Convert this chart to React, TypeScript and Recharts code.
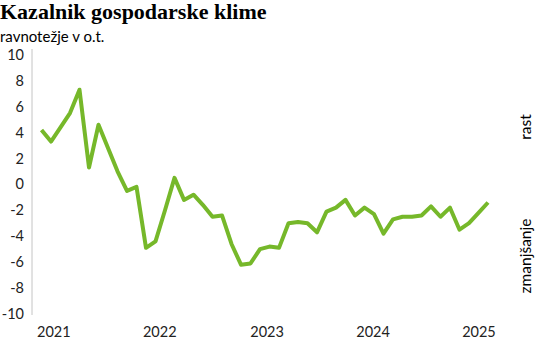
import { Line, LineChart, XAxis, YAxis } from "recharts";

// kazalnik gospodarske klime, ravnotežje v o.t. (zaporedne točke od začetka 2021)
const values = [
  4.2, 3.3, 4.4, 5.5, 7.3, 1.3, 4.6, 2.8, 1.0, -0.5, -0.2, -4.9,
  -4.4, -2.0, 0.5, -1.2, -0.8, -1.6, -2.5, -2.4, -4.6, -6.2, -6.1, -5.0,
  -4.8, -4.9, -3.0, -2.9, -3.0, -3.7, -2.1, -1.8, -1.2, -2.4, -1.8, -2.3,
  -3.8, -2.7, -2.5, -2.5, -2.4, -1.7, -2.5, -1.8, -3.5, -3.0, -2.2, -1.4,
];

const years = ["2021", "2022", "2023", "2024", "2025"];
// where each year label sits on the point index scale
const yearAt = [1.3, 12.45, 23.75, 34.9, 46.05];

const yTicks = [-10, -8, -6, -4, -2, 0, 2, 4, 6, 8, 10];

const data = values.map((v, i) => ({ i, v }));

const GREEN = "#76b82a";
const SANS = "Lato, 'Noto Sans', sans-serif";

export default function App() {
  return (
    <div style={{ position: "relative", width: 557, height: 339, background: "#fff" }}>
      <style>{"body{margin:0}"}</style>
      <div
        style={{
          position: "absolute",
          left: 0,
          top: -1,
          fontFamily: "'Liberation Serif', serif",
          fontWeight: 700,
          fontSize: 22,
          color: "#000",
          whiteSpace: "nowrap",
        }}
      >
        Kazalnik gospodarske klime
      </div>
      <div
        style={{
          position: "absolute",
          left: 0,
          top: 29,
          lineHeight: 1,
          fontFamily: SANS,
          fontSize: 15,
          color: "#000",
          whiteSpace: "nowrap",
        }}
      >
        ravnotežje v o.t.
      </div>

      <LineChart
        width={557}
        height={339}
        data={data}
        margin={{ top: 49, right: 50, bottom: 0, left: 0 }}
      >
        <XAxis
          type="number"
          dataKey="i"
          domain={[-1, 49]}
          ticks={yearAt}
          tickFormatter={(v: number) => years[yearAt.indexOf(v)] ?? ""}
          axisLine={false}
          tickLine={false}
          tickSize={0}
          tickMargin={12}
          height={24}
          interval={0}
          tick={{ fill: "#222", fontSize: 14.5, fontFamily: SANS }}
        />
        <YAxis
          type="number"
          domain={[-10.08, 10.44]}
          ticks={yTicks}
          allowDataOverflow
          interval={0}
          width={32}
          tickLine={false}
          tickSize={0}
          tickMargin={8}
          axisLine={{ stroke: "#c4c4c4", strokeWidth: 1 }}
          tick={{ fill: "#222", fontSize: 14.5, fontFamily: SANS }}
        />
        <Line
          type="linear"
          dataKey="v"
          stroke={GREEN}
          strokeWidth={4}
          strokeLinejoin="round"
          dot={false}
          activeDot={false}
          isAnimationActive={false}
        />
      </LineChart>

      {[
        { text: "rast", top: 127 },
        { text: "zmanjšanje", top: 256 },
      ].map((s) => (
        <div
          key={s.text}
          style={{
            position: "absolute",
            left: 525,
            top: s.top,
            transform: "translate(-50%, -50%) rotate(-90deg)",
            fontFamily: SANS,
            fontSize: 15.5,
            color: "#000",
            whiteSpace: "nowrap",
          }}
        >
          {s.text}
        </div>
      ))}
    </div>
  );
}
